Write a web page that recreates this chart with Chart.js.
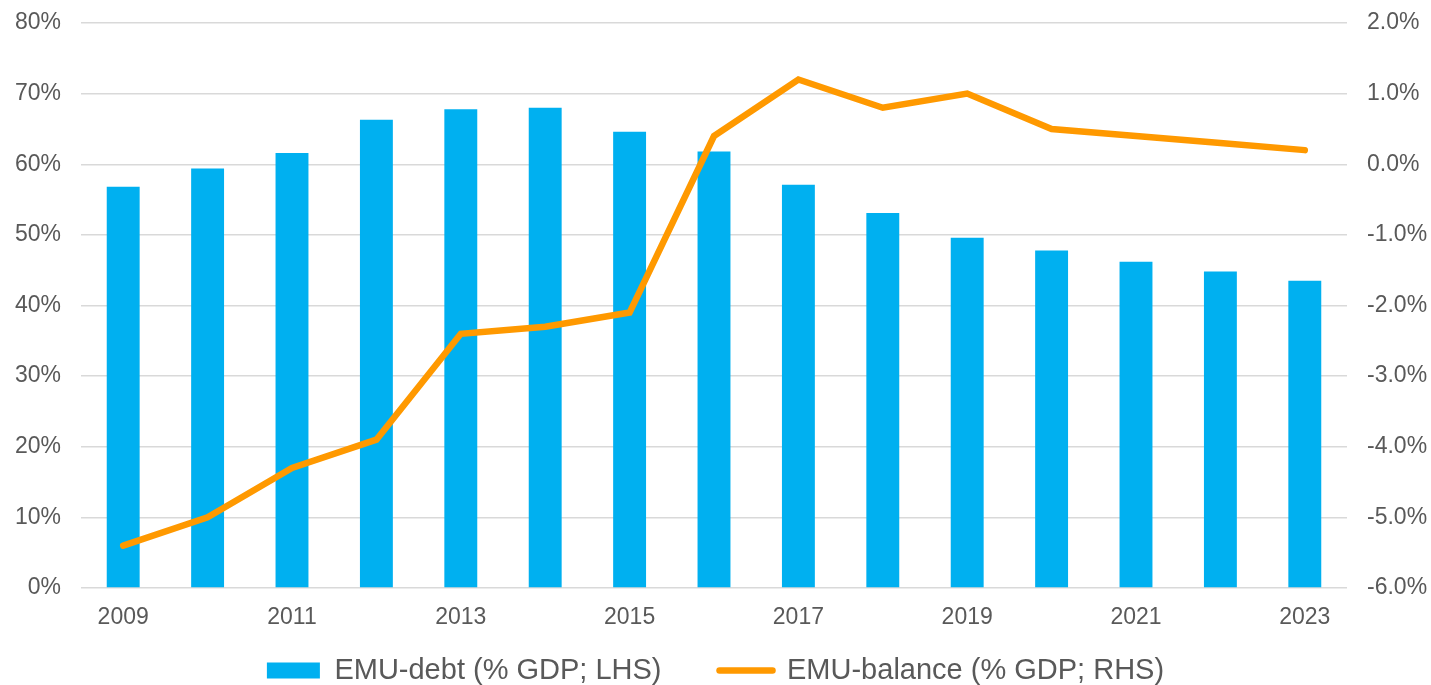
<!DOCTYPE html>
<html>
<head>
<meta charset="utf-8">
<script src="https://cdn.jsdelivr.net/npm/chart.js@4/dist/chart.umd.min.js"></script>
<style>
  html, body { margin: 0; padding: 0; background: #fff; }
  #wrap { width: 1431px; height: 685px; }
</style>
</head>
<body>
<div id="wrap"><canvas id="chart" width="1431" height="685"></canvas></div>
<script>
// Data
const years = ['2009', '2010', '2011', '2012', '2013', '2014', '2015', '2016',
               '2017', '2018', '2019', '2020', '2021', '2022', '2023'];
const debtPct = [56.8, 59.4, 61.6, 66.3, 67.8, 68.0, 64.6, 61.8,
                 57.1, 53.1, 49.6, 47.8, 46.2, 44.8, 43.5];
const balancePct = [-5.4, -5.0, -4.3, -3.9, -2.4, -2.3, -2.1, 0.4,
                    1.2, 0.8, 1.0, 0.5, 0.4, 0.3, 0.2];

const TEXT = '#595959';
const GRID = '#d9d9d9';
const FONT = "'Liberation Sans', Arial, sans-serif";

// legend padding is used for the gap between items, so keep its box height fixed
const legendHeight = {
    id: 'legendHeight',
    beforeLayout(chart) {
        const lg = chart.legend;
        if (lg && !lg._fixed) {
            const fit = lg.fit.bind(lg);
            lg.fit = function () { fit(); this.height = 87; };
            lg._fixed = true;
        }
    }
};

function fitY(width) {
    return s => {
        s.width = width;
        s.paddingTop = 0;
        s.paddingBottom = 0;
    };
}

new Chart(document.getElementById('chart'), {
    data: {
        labels: years,
        datasets: [
            {
                type: 'line',
                label: 'EMU-balance (% GDP; RHS)',
                data: balancePct,
                yAxisID: 'yR',
                borderColor: '#ff9900',
                backgroundColor: '#ff9900',
                borderWidth: 6.5,
                borderCapStyle: 'round',
                borderJoinStyle: 'miter',
                pointRadius: 0,
                tension: 0,
                order: 1
            },
            {
                type: 'bar',
                label: 'EMU-debt (% GDP; LHS)',
                data: debtPct,
                yAxisID: 'yL',
                backgroundColor: '#00b0f0',
                barPercentage: 0.39,
                categoryPercentage: 1,
                order: 2
            }
        ]
    },
    options: {
        responsive: false,
        animation: false,
        layout: { padding: { top: 23, left: 0, right: 0, bottom: 0 } },
        scales: {
            x: {
                offset: true,
                grid: { display: false, drawTicks: false },
                border: { display: false },
                ticks: {
                    autoSkip: false,
                    maxRotation: 0,
                    color: TEXT,
                    font: { family: FONT, size: 23 },
                    padding: 16,
                    callback: function (v, i) { return i % 2 === 0 ? years[i] : ''; }
                },
                afterFit: s => {
                    s.height = 10;
                    s._computeLabelArea = () => undefined; // labels hang below the thin axis box
                }
            },
            yL: {
                position: 'left',
                min: 0, max: 80,
                z: 1,
                grid: { color: GRID, lineWidth: 1.5, drawTicks: false },
                border: { display: false },
                ticks: {
                    stepSize: 10,
                    color: TEXT,
                    font: { family: FONT, size: 23 },
                    padding: 20,
                    callback: v => v + '%'
                },
                afterFit: fitY(81)
            },
            yR: {
                position: 'right',
                min: -6, max: 2,
                grid: { display: false, drawTicks: false },
                border: { display: false },
                ticks: {
                    stepSize: 1,
                    color: TEXT,
                    font: { family: FONT, size: 23 },
                    padding: 20,
                    callback: v => v.toFixed(1) + '%'
                },
                afterFit: fitY(84)
            }
        },
        plugins: {
            tooltip: { enabled: false },
            legend: {
                position: 'bottom',
                reverse: true,
                labels: {
                    color: TEXT,
                    font: { family: FONT, size: 29 },
                    usePointStyle: true,
                    pointStyleWidth: 53,
                    boxHeight: 16,
                    padding: 58,
                    generateLabels: chart => chart.data.datasets.map((ds, i) => ({
                        text: ds.label,
                        datasetIndex: i,
                        fillStyle: ds.backgroundColor,
                        strokeStyle: ds.type === 'line' ? ds.borderColor : ds.backgroundColor,
                        lineWidth: ds.type === 'line' ? 6.5 : 0,
                        lineCap: 'round',
                        pointStyle: ds.type === 'line' ? 'line' : 'rect',
                        fontColor: TEXT,
                        hidden: false
                    }))
                }
            }
        }
    },
    plugins: [legendHeight]
});
</script>
</body>
</html>
